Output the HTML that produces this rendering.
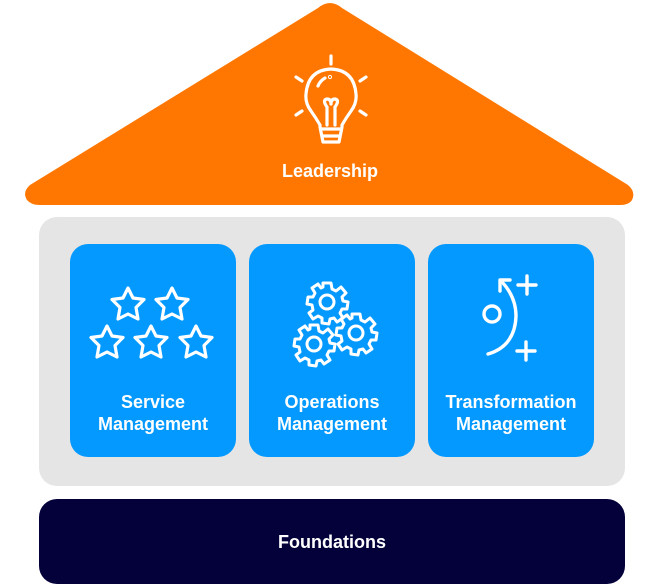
<!DOCTYPE html>
<html><head><meta charset="utf-8"><style>
html,body{margin:0;padding:0;background:#fff;width:657px;height:584px;overflow:hidden}
svg{display:block}
text{font-family:"Liberation Sans",sans-serif;font-weight:bold;font-size:18px;fill:#fff;text-anchor:middle}
</style></head><body>
<svg width="657" height="584" viewBox="0 0 657 584" xmlns="http://www.w3.org/2000/svg">
<defs>
<path id="star" d="M0,-17 L5,-7 L16,-5.5 L8,2.5 L10,14 L0,9 L-10,14 L-8,2.5 L-16,-5.5 L-5,-7 Z" fill="none" stroke="#fff" stroke-width="3.2" stroke-linejoin="round"/>
<g id="gear" fill="none" stroke="#fff" stroke-width="3" stroke-linejoin="round">
<path d="M-4,-19 L4,-19 L5,-13 L9,-11 L14,-15 L19,-9 L15,-5 L16,-1 L21,0 L20,7 L15,7 L13,11 L16,16 L10,20 L7,16 L3,17 L2,22 L-5,21 L-5,16 L-9,14 L-14,17 L-18,11 L-14,8 L-15,3 L-20,2 L-19,-5 L-14,-5 L-12,-9 L-15,-14 L-9,-18 L-6,-14 L-4,-15 Z"/>
<circle r="7"/>
</g>
</defs>
<path d="M330,3 Q324,3 318,8 L30,185 Q22,192 27,200 Q31,205 40,205 L620,205 Q629,205 632,200 Q636,192 628,185 L342,8 Q336,3 330,3 Z" fill="#FF7700"/>
<g fill="none" stroke="#fff" stroke-width="3.2" stroke-linecap="round" stroke-linejoin="round">
<line x1="331" y1="56" x2="331" y2="64"/>
<line x1="296" y1="77" x2="302" y2="81"/><line x1="366" y1="77" x2="360" y2="81"/>
<line x1="296" y1="115" x2="302" y2="111"/><line x1="366" y1="115" x2="360" y2="111"/>
<path d="M320,127 L320,125 Q316,118 311,111 Q305,103 306,94 Q308,70 331,69 Q354,70 356,94 Q357,103 351,111 Q346,118 342,125 L342,127 L339,142 L323,142 Z"/>
<line x1="321" y1="129" x2="341" y2="129"/><line x1="323" y1="136" x2="339" y2="136"/>
<path d="M327,125 L327,107 M335,125 L335,107 M327,107 Q322,100 327,99 Q331,99 331,104 Q331,99 335,99 Q340,100 335,107"/>
<path d="M318,86 Q320,81 325,78"/><circle cx="330" cy="77" r="0.5"/>
</g>
<text x="330" y="177">Leadership</text>
<rect x="39" y="217" width="586" height="269" rx="18" fill="#E5E5E5"/>
<rect x="70" y="244" width="166" height="213" rx="18" fill="#0399FF"/>
<rect x="249" y="244" width="166" height="213" rx="18" fill="#0399FF"/>
<rect x="428" y="244" width="166" height="213" rx="18" fill="#0399FF"/>
<use href="#star" x="128" y="305"/><use href="#star" x="172" y="305"/>
<use href="#star" x="107" y="343"/><use href="#star" x="151" y="343"/><use href="#star" x="196" y="343"/>
<use href="#gear" x="327" y="302"/><use href="#gear" x="314" y="344"/><use href="#gear" x="356" y="333"/>
<g fill="none" stroke="#fff" stroke-width="3.4" stroke-linecap="round" stroke-linejoin="round">
<circle cx="492" cy="314" r="8"/>
<path d="M488,354 Q515,346 516,316 Q516,297 502,282"/>
<path d="M500,291 L500,280 L510,280"/>
<path d="M518,285 L536,285 M527,276 L527,294"/>
<path d="M517,351 L535,351 M526,342 L526,360"/>
</g>
<text x="153" y="408">Service</text><text x="153" y="430">Management</text>
<text x="332" y="408">Operations</text><text x="332" y="430">Management</text>
<text x="511" y="408">Transformation</text><text x="511" y="430">Management</text>
<rect x="39" y="499" width="586" height="85" rx="18" fill="#03003A"/>
<text x="332" y="548">Foundations</text>
</svg>
</body></html>
